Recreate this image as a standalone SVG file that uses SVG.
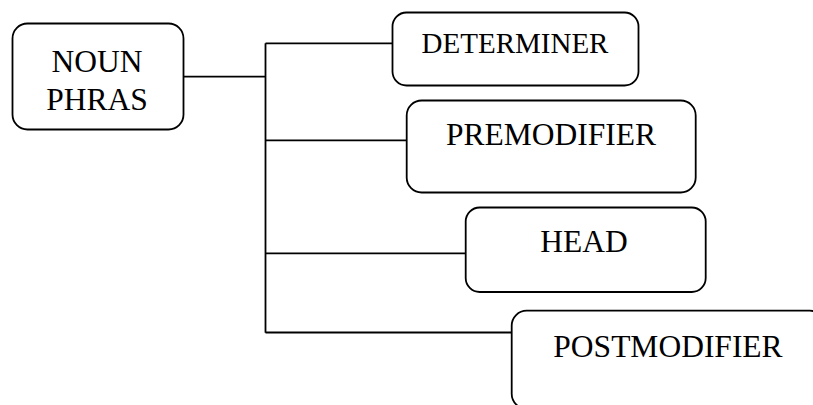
<svg xmlns="http://www.w3.org/2000/svg" width="813" height="405" viewBox="0 0 813 405">
<style>
.box{fill:#fff;stroke:#000;stroke-width:1.8}
.ln{fill:none;stroke:#000;stroke-width:1.8}
text{font-family:"Liberation Serif","Times New Roman",serif;font-size:31.5px;fill:#000}
</style>
<rect width="813" height="405" fill="#fff"/>
<g id="connectors">
<path class="ln" d="M183 76.7H265.5M265.5 43.3V332.7M265.5 43.3H392.5M265.5 140.3H406.7M265.5 253.3H465.7M265.5 332.5H511.7"/>
</g>
<g id="noun-phrase">
<rect class="box" x="12.5" y="23.5" width="171" height="106" rx="15"/>
<text x="97" y="72" text-anchor="middle">NOUN</text>
<text x="97" y="110" text-anchor="middle">PHRAS</text>
</g>
<g id="determiner">
<rect class="box" x="392.5" y="12.5" width="246" height="73" rx="14"/>
<text x="515" y="53" text-anchor="middle" style="font-size:29px">DETERMINER</text>
</g>
<g id="premodifier">
<rect class="box" x="406.7" y="100.5" width="289" height="92" rx="15"/>
<text x="551" y="145" text-anchor="middle">PREMODIFIER</text>
</g>
<g id="head">
<rect class="box" x="465.7" y="207.5" width="240" height="84.5" rx="14"/>
<text x="584" y="252" text-anchor="middle">HEAD</text>
</g>
<g id="postmodifier">
<rect class="box" x="511.7" y="310.7" width="313" height="98" rx="15"/>
<text x="668" y="357" text-anchor="middle">POSTMODIFIER</text>
</g>
</svg>
